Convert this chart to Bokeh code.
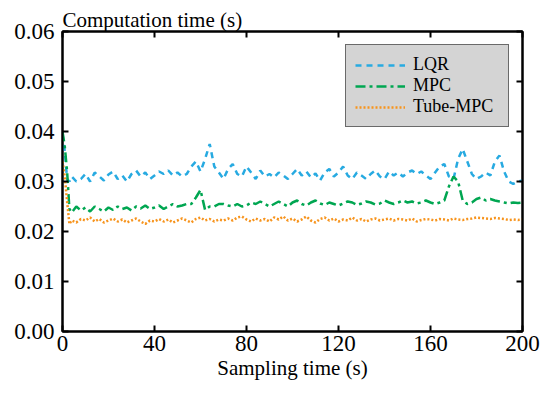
from bokeh.plotting import figure
from bokeh.models import (Range1d, FixedTicker, NumeralTickFormatter, LinearAxis,
                          Legend, LegendItem, ColumnDataSource, CustomJSTickFormatter)
from bokeh.embed import file_html
from bokeh.resources import INLINE

# ---------------- data ----------------
time_s = [0, 1, 2, 3] + list(range(4, 201, 2))

lqr = [0.0395, 0.0360, 0.0305, 0.0300,
       0.0310, 0.0300, 0.0305, 0.0315, 0.0300, 0.0318, 0.0310, 0.0302, 0.0314, 0.0320,
       0.0305, 0.0312, 0.0300, 0.0315, 0.0322, 0.0310, 0.0318, 0.0305, 0.0312, 0.0320,
       0.0315, 0.0322, 0.0312, 0.0318, 0.0310, 0.0315, 0.0330, 0.0340, 0.0320, 0.0345,
       0.0375, 0.0330, 0.0318, 0.0305, 0.0325, 0.0335, 0.0315, 0.0310, 0.0330, 0.0318,
       0.0305, 0.0322, 0.0310, 0.0315, 0.0308, 0.0318, 0.0312, 0.0305, 0.0315, 0.0325,
       0.0312, 0.0320, 0.0308, 0.0316, 0.0302, 0.0318, 0.0325, 0.0310, 0.0318, 0.0330,
       0.0312, 0.0305, 0.0318, 0.0312, 0.0305, 0.0315, 0.0322, 0.0310, 0.0305, 0.0320,
       0.0312, 0.0318, 0.0310, 0.0318, 0.0322, 0.0315, 0.0320, 0.0312, 0.0305, 0.0318,
       0.0330, 0.0335, 0.0310, 0.0305, 0.0345, 0.0365, 0.0340, 0.0315, 0.0305, 0.0310,
       0.0318, 0.0312, 0.0340, 0.0352, 0.0320, 0.0300, 0.0295, 0.0300, 0.0302]

mpc = [0.0400, 0.0370, 0.0320, 0.0245,
       0.0238, 0.0250, 0.0242, 0.0248, 0.0240, 0.0250, 0.0245, 0.0240, 0.0248, 0.0243,
       0.0250, 0.0245, 0.0248, 0.0242, 0.0250, 0.0246, 0.0252, 0.0245, 0.0248, 0.0252,
       0.0245, 0.0250, 0.0255, 0.0250, 0.0252, 0.0255, 0.0255, 0.0268, 0.0283, 0.0243,
       0.0250, 0.0250, 0.0255, 0.0255, 0.0252, 0.0250, 0.0255, 0.0250, 0.0252, 0.0258,
       0.0255, 0.0260, 0.0255, 0.0250, 0.0255, 0.0260, 0.0255, 0.0250, 0.0258, 0.0262,
       0.0255, 0.0252, 0.0258, 0.0262, 0.0256, 0.0253, 0.0258, 0.0255, 0.0252, 0.0256,
       0.0260, 0.0258, 0.0253, 0.0256, 0.0260, 0.0258, 0.0254, 0.0256, 0.0262, 0.0258,
       0.0255, 0.0258, 0.0262, 0.0258, 0.0260, 0.0256, 0.0258, 0.0262, 0.0258, 0.0255,
       0.0258, 0.0262, 0.0290, 0.0310, 0.0300, 0.0262, 0.0255, 0.0258, 0.0265, 0.0268,
       0.0262, 0.0265, 0.0262, 0.0260, 0.0258, 0.0256, 0.0258, 0.0257, 0.0258]

tube_mpc = [0.0340, 0.0310, 0.0260, 0.0215,
            0.0222, 0.0218, 0.0225, 0.0222, 0.0228, 0.0220, 0.0225, 0.0218, 0.0222, 0.0226,
            0.0220, 0.0224, 0.0218, 0.0222, 0.0226, 0.0220, 0.0215, 0.0222, 0.0220, 0.0225,
            0.0220, 0.0224, 0.0218, 0.0222, 0.0226, 0.0222, 0.0218, 0.0225, 0.0228, 0.0222,
            0.0225, 0.0220, 0.0224, 0.0222, 0.0226, 0.0222, 0.0228, 0.0230, 0.0224, 0.0220,
            0.0226, 0.0222, 0.0225, 0.0220, 0.0228, 0.0224, 0.0230, 0.0222, 0.0226, 0.0220,
            0.0224, 0.0230, 0.0222, 0.0218, 0.0225, 0.0228, 0.0222, 0.0226, 0.0220, 0.0224,
            0.0222, 0.0228, 0.0222, 0.0225, 0.0220, 0.0224, 0.0226, 0.0222, 0.0224, 0.0226,
            0.0222, 0.0225, 0.0224, 0.0222, 0.0226, 0.0220, 0.0223, 0.0225, 0.0224, 0.0222,
            0.0225, 0.0224, 0.0222, 0.0226, 0.0224, 0.0223, 0.0225, 0.0226, 0.0228, 0.0227,
            0.0226, 0.0225, 0.0227, 0.0226, 0.0225, 0.0223, 0.0224, 0.0223, 0.0224]

x_ticks = [0, 40, 80, 120, 160, 200]
y_ticks = [0.00, 0.01, 0.02, 0.03, 0.04, 0.05, 0.06]
series_names = ["LQR", "MPC", "Tube-MPC"]

assert len(time_s) == len(lqr) == len(mpc) == len(tube_mpc)

# ---------------- figure ----------------
FONT = "Liberation Serif"
p = figure(width=550, height=397, output_backend="svg", toolbar_location=None,
           x_range=Range1d(0, 200), y_range=Range1d(0, 0.06),
           min_border_left=62, min_border_right=28, min_border_top=31,
           min_border_bottom=66)
p.background_fill_color = "white"
p.border_fill_color = "white"
p.xgrid.visible = False
p.ygrid.visible = False
p.outline_line_color = "black"
p.outline_line_width = 2

p.title.text = "Computation time (s)"
p.title.text_font = FONT
p.title.text_font_size = "21px"
p.title.text_font_style = "normal"
p.title.text_color = "black"
p.title.align = "left"
p.title.standoff = 0
p.title.offset = 0

def style_axis(ax, labels=True):
    ax.axis_line_color = "black"
    ax.axis_line_width = 2
    ax.major_tick_in = 6
    ax.major_tick_out = 0
    ax.major_tick_line_width = 2
    ax.major_tick_line_color = "black"
    ax.minor_tick_line_color = None
    ax.major_label_text_font = FONT
    ax.major_label_text_font_style = "normal"
    ax.major_label_text_color = "black"
    if labels:
        ax.major_label_text_font_size = "23px"
        ax.axis_label_text_font = FONT
        ax.axis_label_text_font_size = "21px"
        ax.axis_label_text_font_style = "normal"
        ax.axis_label_text_color = "black"
    else:
        ax.formatter = CustomJSTickFormatter(code="return ''")
        ax.major_label_standoff = 0

xa = p.xaxis[0]
ya = p.yaxis[0]
xa.ticker = FixedTicker(ticks=x_ticks)
ya.ticker = FixedTicker(ticks=y_ticks)
ya.formatter = NumeralTickFormatter(format="0.00")
xa.axis_label = "Sampling time (s)"
style_axis(xa)
style_axis(ya)
xa.major_label_standoff = 4
ya.major_label_standoff = 8
xa.axis_label_standoff = 2

top = LinearAxis(ticker=FixedTicker(ticks=x_ticks))
right = LinearAxis(ticker=FixedTicker(ticks=y_ticks))
style_axis(top, labels=False)
style_axis(right, labels=False)
p.add_layout(top, "above")
p.add_layout(right, "right")

src = ColumnDataSource(dict(t=time_s, lqr=lqr, mpc=mpc, tube=tube_mpc))
r1 = p.line("t", "lqr", source=src, line_color="#27aae1", line_width=2.5,
            line_dash="6 5")
r2 = p.line("t", "mpc", source=src, line_color="#00a651", line_width=2.5,
            line_dash="10 4 3 4")
r3 = p.line("t", "tube", source=src, line_color="#f7941d", line_width=2.5,
            line_dash="2 2")

legend = Legend(items=[LegendItem(label=series_names[0], renderers=[r1]),
                       LegendItem(label=series_names[1], renderers=[r2]),
                       LegendItem(label=series_names[2], renderers=[r3])],
                location="top_right")
legend.margin = 13
legend.padding = 9
legend.spacing = 0
legend.glyph_width = 50
legend.glyph_height = 20
legend.label_height = 20
legend.label_width = 86
legend.label_standoff = 8
legend.label_text_font = FONT
legend.label_text_font_size = "18px"
legend.label_text_color = "black"
legend.background_fill_color = "#d4d4d4"
legend.background_fill_alpha = 1.0
legend.border_line_color = "black"
legend.border_line_width = 1.5
p.add_layout(legend, "center")

open("out.html", "w").write(file_html(p, INLINE))
